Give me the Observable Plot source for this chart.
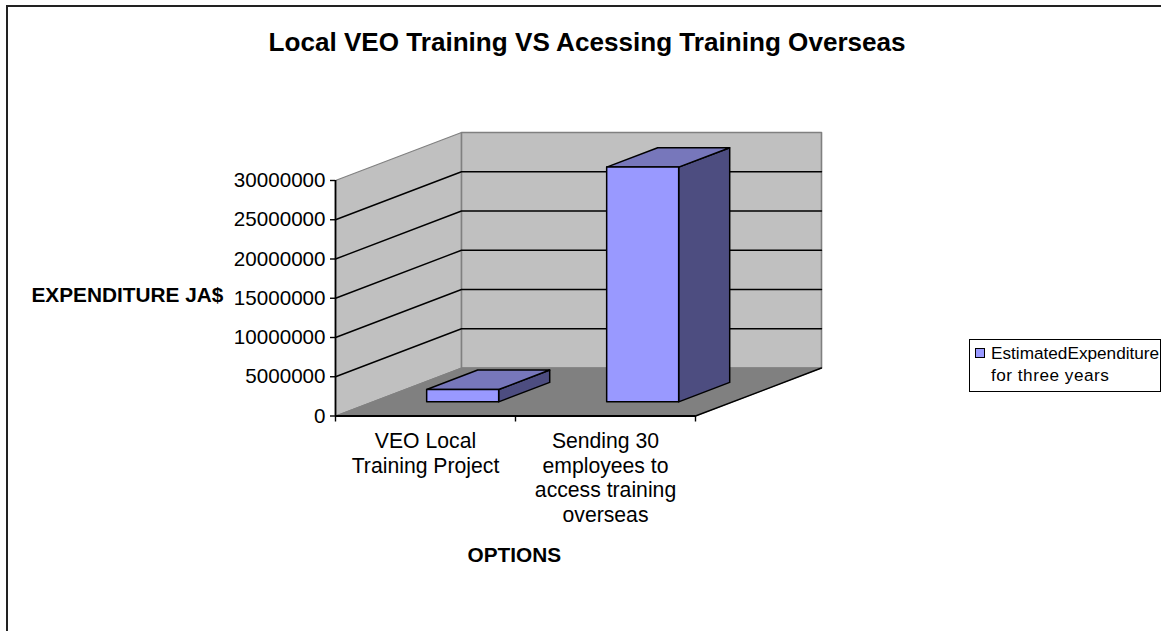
<!DOCTYPE html>
<html>
<head>
<meta charset="utf-8">
<script src="https://cdn.jsdelivr.net/npm/d3@7"></script>
<script src="https://cdn.jsdelivr.net/npm/@observablehq/plot@0.6"></script>
<style>
html,body{margin:0;padding:0;background:#fff;overflow:hidden;width:1161px;height:631px;font-family:"Liberation Sans",Arial,sans-serif}
#chart{position:absolute;left:0;top:0}
#border{position:absolute;left:6px;top:5px;width:1300px;height:800px;border-left:2px solid #222;border-top:2px solid #222}
#legend{position:absolute;left:969px;top:339px;width:190px;height:51px;border:1px solid #000;background:#fff;color:#000}
#legend .sw{position:absolute;left:5px;top:8px;width:8px;height:8px;background:#9999ff;border:1.5px solid #000}
#legend .l1{position:absolute;left:21px;top:3px;white-space:nowrap;font-size:17.2px;line-height:20px}
#legend .l2{position:absolute;left:21px;top:25px;white-space:nowrap;font-size:17.2px;line-height:20px;letter-spacing:.5px}
</style>
</head>
<body>
<div id="border"></div>
<div id="chart"></div>
<div id="legend"><span class="sw"></span><div class="l1">EstimatedExpenditure</div><div class="l2">for three years</div></div>
<script>
const titleText = "Local VEO Training VS Acessing Training Overseas";
const yTitle = "EXPENDITURE JA$";
const xTitle = "OPTIONS";
const categories = ["VEO Local\nTraining Project", "Sending 30\nemployees to\naccess training\noverseas"];
const values = [1570000, 29900000];
const yTicks = [0, 5000000, 10000000, 15000000, 20000000, 25000000, 30000000];
const yMax = 30000000;

// oblique projection: one unit of depth moves right and up
const depthX = 0.7;
const depthY = 6115000;
const pt = (cat, depth, v) => ({x: cat + depth * depthX, y: v + depth * depthY});
const poly = (id, corners) => [...corners, corners[0]].map(([c, d, v]) => ({id, ...pt(c, d, v)}));

const wallColor = "#c0c0c0", floorColor = "#808080";
const barFront = "#9999ff", barTop = "#7777bb", barSide = "#4d4d80";

const shape = (rows, fill, stroke = "none", strokeWidth = 1) =>
  Plot.line(rows, {x: "x", y: "y", z: "id", fill, stroke, strokeWidth, curve: "linear", strokeLinejoin: "round"});

const marks = [
  shape(poly("side", [[0,0,0],[0,1,0],[0,1,yMax],[0,0,yMax]]), wallColor, "#808080", 1.2),
  shape(poly("back", [[0,1,0],[2,1,0],[2,1,yMax],[0,1,yMax]]), wallColor, "#808080", 1.6),
  shape(poly("floor", [[0,0,0],[2,0,0],[2,1,0],[0,1,0]]), floorColor, "#808080", 1)
];
// gridlines run along the side wall and the back wall
yTicks.filter(v => v > 0 && v < yMax).forEach((v, i) => {
  marks.push(shape([[0,0,v],[0,1,v],[2,1,v]].map(([c,d,w]) => ({id: "g"+i, ...pt(c,d,w)})), "none", "#000", 1.4));
});
// bars
const d0 = 0.295, d1 = 0.7, halfW = 0.2;
values.forEach((v, i) => {
  const l = i + 0.5 - halfW, r = i + 0.5 + halfW;
  marks.push(shape(poly("s"+i, [[r,d0,0],[r,d1,0],[r,d1,v],[r,d0,v]]), barSide, "#000", 1.5));
  marks.push(shape(poly("t"+i, [[l,d0,v],[r,d0,v],[r,d1,v],[l,d1,v]]), barTop, "#000", 1.5));
  marks.push(shape(poly("f"+i, [[l,d0,0],[r,d0,0],[r,d0,v],[l,d0,v]]), barFront, "#000", 1.5));
});
// front-right floor edge and axes
marks.push(shape([[2,0,0],[2,1,0]].map(([c,d,v]) => ({id: "e", ...pt(c,d,v)})), "none", "#000", 1.4));
marks.push(Plot.ruleX([0], {y1: 0, y2: yMax, stroke: "#000", strokeWidth: 1.8}));
marks.push(Plot.ruleY([0], {x1: 0, x2: 2, stroke: "#000", strokeWidth: 1.8}));
marks.push(Plot.axisY({ticks: yTicks, tickFormat: d => String(d), tickSize: 5, tickPadding: 5, fontSize: 20.6, label: null, stroke: "#000", strokeWidth: 1.4, fill: "#000", textStroke: "none", dy: 0}));
marks.push(Plot.axisX({ticks: [0, 1, 2], tickFormat: () => "", tickSize: 6, label: null, stroke: "#000", strokeWidth: 1.4}));
// category labels
marks.push(Plot.text(categories, {
  x: (d, i) => i + 0.5, y: () => 0, text: d => d, dy: 15, lineAnchor: "top", textAnchor: "middle",
  fontSize: 21.2, lineHeight: 1.155, fill: "#000"
}));
// titles
marks.push(Plot.text([titleText], {frameAnchor: "top-left", dx: 268 - 335, dy: 32 - 180, textAnchor: "start", lineAnchor: "top", fontSize: 26.1, fontWeight: "bold", fill: "#000"}));
marks.push(Plot.text([yTitle], {frameAnchor: "top-left", dx: 31 - 335, dy: 287 - 180, textAnchor: "start", lineAnchor: "top", fontSize: 20.8, fontWeight: "bold", fill: "#000"}));
marks.push(Plot.text([xTitle], {frameAnchor: "top-left", dx: 467 - 335, dy: 547 - 180, textAnchor: "start", lineAnchor: "top", fontSize: 20.8, fontWeight: "bold", fill: "#000"}));

const chart = Plot.plot({
  width: 1161, height: 631,
  marginLeft: 335, marginRight: 466, marginTop: 180, marginBottom: 215.5,
  x: {domain: [0, 2], axis: null},
  y: {domain: [0, yMax], axis: null},
  style: {background: "transparent", fontFamily: "'Liberation Sans', Arial, sans-serif", overflow: "visible"},
  marks
});
document.getElementById("chart").appendChild(chart);
</script>
</body>
</html>
